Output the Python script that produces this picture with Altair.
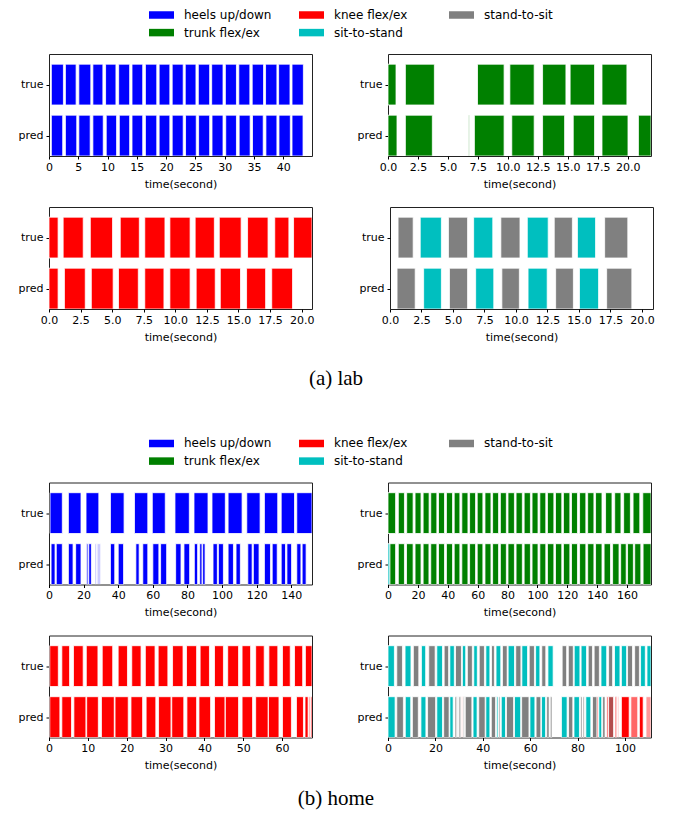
import altair as alt
import pandas as pd

# ---------------- categories & colours ----------------
CLASS_NAMES = ["heels up/down", "trunk flex/ex", "knee flex/ex", "sit-to-stand", "stand-to-sit"]
CLASS_COLORS = ["#0000ff", "#008000", "#ff0000", "#00bfbf", "#808080"]
CODES = {"H": "heels up/down", "K": "knee flex/ex", "G": "stand-to-sit",
         "T": "trunk flex/ex", "C": "sit-to-stand"}
CAPTIONS = ["(a) lab", "(b) home"]

# ---------------- (a) lab ----------------
LAB_HEELS_TRUE = [(0.4, 2.46), (2.8, 4.63), (5.09, 7.14), (7.49, 9.2), (9.66, 11.43), (11.89, 13.77),
                  (14.17, 16.0), (16.46, 18.4), (18.8, 20.63), (21.03, 22.91), (23.26, 25.09),
                  (25.49, 27.43), (27.77, 29.71), (30.11, 32.0), (32.4, 34.29), (34.69, 36.63),
                  (36.97, 38.91), (39.2, 41.14), (41.49, 43.43)]
LAB_HEELS_PRED = [(0.4, 2.34), (2.8, 4.74), (5.09, 7.03), (7.49, 9.26), (9.77, 11.54), (12.0, 13.77),
                  (14.17, 16.0), (16.46, 18.4), (18.8, 20.63), (21.03, 22.91), (23.31, 25.14),
                  (25.54, 27.43), (27.83, 29.71), (30.17, 32.0), (32.46, 34.34), (34.74, 36.57),
                  (37.03, 38.91), (39.26, 41.2), (41.49, 43.37)]

LAB_TRUNK_TRUE = [(0.0, 0.67), (1.45, 3.87), (7.47, 9.69), (10.17, 12.2), (12.9, 14.85),
                  (15.2, 17.24), (17.86, 19.94)]
LAB_TRUNK_PRED = [(0.0, 0.75), (1.45, 3.7), (6.74, 6.8), (7.21, 9.69), (10.33, 12.2), (12.9, 14.74),
                  (15.46, 17.24), (17.86, 20.03), (20.9, 21.95)]

LAB_KNEE_TRUE = [(0.0, 0.72), (1.12, 2.71), (3.27, 5.03), (5.64, 7.15), (7.58, 9.18), (9.57, 11.17),
                 (11.57, 13.09), (13.48, 15.21), (15.72, 17.34), (17.87, 18.99), (19.36, 20.82)]
LAB_KNEE_PRED = [(0.0, 0.72), (1.22, 2.87), (3.35, 5.08), (5.5, 7.07), (7.58, 9.1), (9.57, 11.17),
                 (11.65, 13.16), (13.56, 15.16), (15.64, 17.15), (17.63, 19.28)]

LAB_SIT_TRUE = [(0.64, 1.84, "G"), (2.4, 4.08, "C"), (4.64, 6.16, "G"), (6.64, 8.16, "C"),
                (8.8, 10.32, "G"), (10.9, 12.56, "C"), (13.04, 14.48, "G"), (14.88, 16.32, "C"),
                (17.04, 18.88, "G")]
LAB_SIT_PRED = [(0.56, 2.0, "G"), (2.67, 4.08, "C"), (4.72, 6.16, "G"), (6.8, 8.24, "C"),
                (8.88, 10.27, "G"), (10.96, 12.48, "C"), (13.15, 14.56, "G"), (15.04, 16.56, "C"),
                (17.2, 19.2, "G")]

# ---------------- (b) home ----------------
HOME_HEELS_TRUE = [(0.6, 7.7), (11.2, 18.5), (21.4, 28.8), (35.5, 43.4), (49.4, 57.1), (59.7, 67.2),
                   (72.8, 81.1), (83.8, 91.9), (94.2, 101.9), (103.5, 111.6), (114.3, 122.0),
                   (124.5, 132.2), (134.2, 141.9), (143.2, 152.0)]
HOME_HEELS_PRED = [(1.2, 3.5), (4.2, 7.7), (11.2, 13.9), (15.4, 18.5), (21.6, 22.6, "H", 0.7),
                   (23.0, 24.5), (26.6, 27.4, "H", 0.3), (27.8, 29.9, "H", 0.2), (35.5, 38.0),
                   (40.0, 43.1), (50.2, 52.1), (54.2, 57.1), (60.0, 63.5), (64.5, 68.0), (73.2, 76.3),
                   (78.0, 81.3), (84.0, 85.9), (87.1, 88.4), (88.8, 90.2), (94.8, 97.3), (97.9, 100.8),
                   (103.5, 106.6), (108.1, 110.6), (114.9, 117.4), (118.1, 121.4), (124.5, 128.0),
                   (129.0, 131.9), (134.2, 136.7), (137.5, 140.2), (143.2, 145.6), (146.3, 148.6)]

HOME_TRUNK_TRUE = [(0.0, 5.1), (6.9, 11.0), (12.5, 16.8), (18.1, 22.1), (23.5, 27.5), (28.6, 32.7),
                   (33.8, 37.8), (39.1, 43.2), (44.3, 48.1), (49.4, 53.5), (54.6, 58.6), (59.7, 63.5),
                   (64.9, 68.9), (70.0, 74.0), (75.2, 79.2), (80.3, 84.6), (85.7, 89.9), (91.1, 95.3),
                   (96.4, 100.4), (101.6, 105.6), (106.7, 111.0), (112.1, 116.3), (117.4, 121.7),
                   (122.8, 126.8), (128.2, 132.4), (133.6, 137.8), (138.9, 143.2), (145.6, 149.9),
                   (151.7, 155.9), (157.7, 162.2), (164.0, 168.5), (170.5, 176.0)]
HOME_TRUNK_PRED = [(0.0, 1.3, "C"), (1.3, 5.1), (6.9, 11.0), (12.4, 16.8), (18.1, 22.1), (23.5, 27.4),
                   (28.6, 32.7), (33.8, 37.8), (39.1, 43.2), (44.3, 48.1), (49.4, 53.5), (54.6, 58.6),
                   (59.7, 63.5), (64.9, 68.9), (70.0, 74.0), (75.2, 79.2), (80.3, 84.6), (85.7, 89.9),
                   (91.1, 95.3), (96.4, 100.4), (101.6, 105.6), (106.7, 111.0), (112.1, 116.3),
                   (117.4, 121.7), (122.8, 126.8), (128.2, 132.4), (133.6, 137.8), (138.9, 143.2),
                   (144.6, 148.9), (150.3, 154.6), (155.7, 159.4), (160.3, 164.2), (165.1, 169.2),
                   (170.7, 176.0)]

HOME_KNEE_TRUE = [(0.2, 2.4), (3.3, 5.3), (6.3, 8.8), (9.6, 12.6), (13.7, 16.4), (17.8, 20.2),
                  (21.3, 23.7), (24.8, 27.3), (28.1, 30.6), (31.8, 34.5), (35.4, 38.0), (38.9, 41.3),
                  (42.6, 44.9), (46.0, 48.8), (49.7, 51.9), (53.2, 55.4), (56.6, 58.9), (60.1, 62.1),
                  (63.2, 65.3), (66.0, 67.7)]
HOME_KNEE_PRED = [(0.2, 2.8), (3.3, 5.8), (6.4, 9.5), (9.7, 12.7), (13.5, 16.8), (17.0, 20.4),
                  (21.1, 24.1), (25.0, 27.5), (28.2, 31.4), (31.6, 34.7), (35.5, 38.0), (38.6, 41.6),
                  (42.6, 45.3), (45.4, 48.8), (49.7, 52.4), (53.2, 56.4), (56.5, 59.2), (60.1, 62.4),
                  (63.7, 65.5), (65.9, 66.7), (66.9, 67.2, "K", 0.6), (67.4, 67.7)]

HOME_SIT_TRUE = [(0.0, 2.7, "C"), (3.7, 6.1, "G"), (7.2, 9.7, "C"), (10.7, 13.0, "G"), (14.1, 15.9, "C"),
                 (17.2, 19.9, "G"), (20.6, 23.0, "C"), (23.7, 25.6, "G"), (26.1, 28.0, "C"),
                 (28.5, 31.0, "G"), (31.4, 32.8, "C"), (33.5, 35.6, "G"), (36.2, 37.7, "C"),
                 (38.5, 40.7, "G"), (41.3, 43.0, "C"), (43.7, 44.9, "G"), (45.6, 47.6, "C"),
                 (48.3, 50.3, "G"), (50.7, 53.4, "C"), (53.9, 56.1, "G"), (56.5, 58.9, "C"),
                 (59.6, 61.8, "G"), (62.3, 64.1, "C"), (64.9, 66.6, "G"), (67.5, 69.7, "C"),
                 (73.5, 75.4, "G"), (76.1, 78.2, "G"), (78.6, 81.0, "C"), (81.5, 83.8, "C"),
                 (84.5, 86.3, "G"), (87.0, 89.2, "G"), (89.9, 92.3, "C"), (93.1, 94.8, "G"),
                 (95.6, 97.9, "C"), (98.5, 100.7, "C"), (101.1, 103.2, "G"), (104.1, 106.1, "G"),
                 (106.6, 108.6, "C"), (109.3, 111.0, "C")]
HOME_SIT_PRED = [(0.0, 3.0, "C"), (3.7, 6.5, "G"), (7.3, 9.6, "C"), (10.3, 12.8, "G"), (13.9, 16.0, "C"),
                 (16.7, 20.1, "G"), (20.6, 23.0, "C"), (23.5, 25.8, "G"), (26.1, 27.5, "C"),
                 (28.3, 29.0, "G"), (29.3, 29.8, "G", 0.5), (30.0, 30.7, "G"), (31.0, 31.5, "K", 0.3),
                 (31.8, 32.3, "G"), (32.6, 35.4, "G"), (35.9, 37.6, "C"), (38.3, 41.0, "G"),
                 (41.3, 43.0, "C"), (43.6, 45.4, "G"), (45.8, 46.4, "C"), (46.8, 47.3, "G"),
                 (47.8, 49.6, "C"), (50.0, 53.0, "G"), (53.4, 56.0, "C"), (56.4, 59.5, "G"),
                 (59.9, 62.0, "C"), (62.5, 64.5, "G"), (64.8, 66.5, "C"), (67.0, 68.0, "G"),
                 (68.5, 69.2, "G"), (73.2, 75.6, "C"), (76.2, 78.0, "G"), (78.5, 80.8, "C"),
                 (81.3, 81.9, "G"), (82.3, 82.8, "G"), (83.5, 85.6, "C"), (86.3, 88.2, "G"),
                 (88.2, 88.8, "K", 0.5), (89.0, 90.2, "C"), (90.6, 91.6, "G"), (92.3, 93.0, "K", 0.6),
                 (93.1, 95.2, "G"), (93.1, 95.2, "K", 0.4), (95.9, 96.5, "K"), (97.0, 97.4, "K", 0.5),
                 (98.5, 101.8, "K"), (102.5, 105.4, "K", 0.6), (106.1, 107.7, "K"),
                 (108.9, 111.0, "K", 0.4)]

# axis tick values
TICKS_LAB_HEELS = [0, 5, 10, 15, 20, 25, 30, 35, 40]
TICKS_LAB = [0, 2.5, 5, 7.5, 10, 12.5, 15, 17.5, 20]
TICKS_HOME_HEELS = [0, 20, 40, 60, 80, 100, 120, 140]
TICKS_HOME_TRUNK = [0, 20, 40, 60, 80, 100, 120, 140, 160]
TICKS_HOME_KNEE = [0, 10, 20, 30, 40, 50, 60]
TICKS_HOME_SIT = [0, 20, 40, 60, 80, 100]

PANEL_W, PANEL_H = 263, 102
GAP_W = 77
FONT = "DejaVu Sans"


def to_frame(true_segs, pred_segs, default_code):
    rows = []
    for row_name, segs in (("true", true_segs), ("pred", pred_segs)):
        for s in segs:
            code = s[2] if len(s) > 2 else default_code
            alpha = s[3] if len(s) > 3 else 1.0
            rows.append({"row": row_name, "start": s[0], "end": s[1],
                         "cls": CODES[code], "alpha": alpha})
    return pd.DataFrame(rows)


def color_enc():
    return alt.Color("cls:N", scale=alt.Scale(domain=CLASS_NAMES, range=CLASS_COLORS), legend=None)


def panel(df, xmax, ticks, fmt):
    return alt.Chart(df).transform_calculate(
        y0="(datum.row == 'true' ? 1 : 0) - 0.4",
        y1="(datum.row == 'true' ? 1 : 0) + 0.4",
    ).mark_rect(stroke="white", strokeWidth=0.8, clip=True).encode(
        x=alt.X("start:Q", scale=alt.Scale(domain=[0, xmax], nice=False, zero=False),
                axis=alt.Axis(values=ticks, format=fmt, title="time(second)", labelFlush=False,
                              labelOverlap=False, tickSize=3, labelPadding=2, titlePadding=6,
                              domain=False, grid=False)),
        x2="end:Q",
        y=alt.Y("y0:Q", scale=alt.Scale(domain=[-0.4, 1.6], nice=False, zero=False),
                axis=alt.Axis(values=[0, 1], labelExpr="datum.value == 1 ? 'true' : 'pred'",
                              title=None, minExtent=40, maxExtent=40, tickSize=3, labelPadding=3,
                              domain=False, grid=False)),
        y2="y1:Q",
        color=color_enc(),
        opacity=alt.Opacity("alpha:Q", scale=None),
    ).properties(width=PANEL_W, height=PANEL_H,
                 view=alt.ViewBackground(stroke="#222", strokeWidth=1))


def legend_chart():
    df = pd.DataFrame({"cls": CLASS_NAMES})
    base = alt.Chart(df).transform_window(
        idx="row_number()"
    ).transform_calculate(
        col="floor((datum.idx - 1) / 2)", lrow="(datum.idx - 1) % 2"
    )
    xs = alt.X("col:Q", scale=alt.Scale(domain=[-0.75, 3.27], nice=False, zero=False), axis=None)
    ys = alt.Y("lrow:Q", scale=alt.Scale(domain=[-0.284, 1.4205], nice=False, zero=False, reverse=True),
               axis=None)
    swatch = base.mark_point(shape="M-1,-0.3H1V0.3H-1Z", size=625, filled=True, opacity=1,
                             strokeWidth=0).encode(x=xs, y=ys, color=color_enc())
    label = base.mark_text(align="left", baseline="middle", dx=22.5, font=FONT, fontSize=12,
                           color="black").encode(x=xs, y=ys, text="cls:N")
    return alt.layer(swatch, label).properties(width=2 * PANEL_W + GAP_W, height=30)


def caption_chart(text):
    df = pd.DataFrame({"caption": [text]})
    return alt.Chart(df).mark_text(font="Liberation Serif", fontSize=21, color="black",
                                   baseline="middle", align="center").encode(
        text="caption:N"
    ).properties(width=2 * (PANEL_W + 24), height=24)


a1 = panel(to_frame(LAB_HEELS_TRUE, LAB_HEELS_PRED, "H"), 44.9, TICKS_LAB_HEELS, "d")
a2 = panel(to_frame(LAB_TRUNK_TRUE, LAB_TRUNK_PRED, "T"), 21.95, TICKS_LAB, ".1f")
a3 = panel(to_frame(LAB_KNEE_TRUE, LAB_KNEE_PRED, "K"), 20.82, TICKS_LAB, ".1f")
a4 = panel(to_frame(LAB_SIT_TRUE, LAB_SIT_PRED, "G"), 20.88, TICKS_LAB, ".1f")

b1 = panel(to_frame(HOME_HEELS_TRUE, HOME_HEELS_PRED, "H"), 152, TICKS_HOME_HEELS, "d")
b2 = panel(to_frame(HOME_TRUNK_TRUE, HOME_TRUNK_PRED, "T"), 176, TICKS_HOME_TRUNK, "d")
b3 = panel(to_frame(HOME_KNEE_TRUE, HOME_KNEE_PRED, "K"), 67.7, TICKS_HOME_KNEE, "d")
b4 = panel(to_frame(HOME_SIT_TRUE, HOME_SIT_PRED, "G"), 111, TICKS_HOME_SIT, "d")


def row(left, right):
    return alt.hconcat(left, right, spacing=34).resolve_scale(color="independent")


def group(p1, p2, p3, p4, caption, cap_gap):
    panels = alt.vconcat(row(p1, p2), row(p3, p4), spacing=16).resolve_scale(color="independent")
    body = alt.vconcat(legend_chart(), panels, spacing=13).resolve_scale(color="independent")
    return alt.vconcat(body, caption_chart(caption), spacing=cap_gap).resolve_scale(color="independent")


chart = alt.vconcat(
    group(a1, a2, a3, a4, CAPTIONS[0], 24),
    group(b1, b2, b3, b4, CAPTIONS[1], 15.5),
    spacing=45.5,
).resolve_scale(color="independent").properties(padding=0).configure_axis(
    labelFont=FONT, titleFont=FONT, labelFontSize=11, titleFontSize=11, titleFontWeight="normal",
    labelColor="black", titleColor="black", tickColor="black",
).configure_view(stroke=None)

chart.save("out.html", embed_options={"renderer": "svg", "actions": False})
